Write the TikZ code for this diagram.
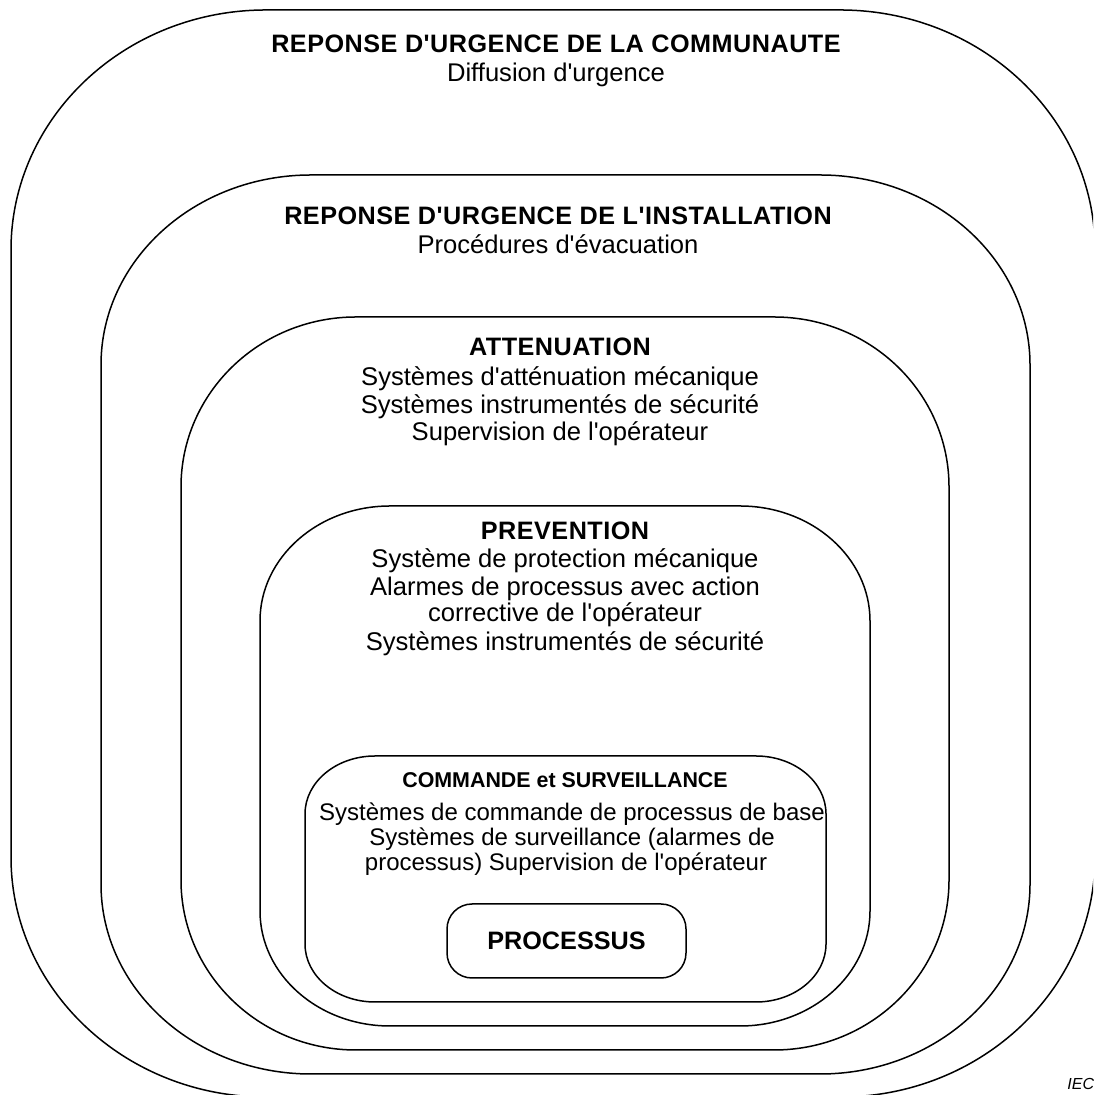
\documentclass[tikz,border=0pt]{standalone}
\usepackage{fontspec}
\setmainfont{Liberation Sans}[Ligatures=TeXOff]
\newcommand{\ovalframe}[6]{%
  \draw[frame] ({#1+#5},{1095-#2}) -- ({#3-#5},{1095-#2})
    arc[start angle=90,end angle=0,x radius={#5*0.5pt},y radius={#6*0.5pt}]
    -- ({#3},{1095-#4+#6})
    arc[start angle=0,end angle=-90,x radius={#5*0.5pt},y radius={#6*0.5pt}]
    -- ({#1+#5},{1095-#4})
    arc[start angle=270,end angle=180,x radius={#5*0.5pt},y radius={#6*0.5pt}]
    -- ({#1},{1095-#2-#6})
    arc[start angle=180,end angle=90,x radius={#5*0.5pt},y radius={#6*0.5pt}]
    -- cycle;}
\tikzset{
  frame/.style={draw=black,line width=0.75pt},
  ttl/.style={anchor=base,inner sep=0pt,font=\fontsize{12.6}{14}\selectfont\bfseries\addfontfeature{LetterSpace=2}},
  body/.style={anchor=base,inner sep=0pt,font=\fontsize{12.8}{14}\selectfont},
  cbody/.style={anchor=base,inner sep=0pt,font=\fontsize{12}{14}\selectfont},
  cttl/.style={anchor=base,inner sep=0pt,font=\fontsize{10.7}{13}\selectfont\bfseries},
}
\begin{document}
\begin{tikzpicture}[x=0.5pt,y=0.5pt]
\useasboundingbox (0,0) rectangle (1093,1095);
\clip (0,0) rectangle (1093,1095);
% frames (L, T, R, B, rx, ry) in pixels, y downward
\ovalframe{11}{10}{1095}{1097}{255}{240}
\ovalframe{101}{175}{1030}{1074}{210}{190}
\ovalframe{181}{317}{949}{1050}{175}{170}
\ovalframe{260}{506}{870}{1026}{130}{115}
\ovalframe{305}{756}{826}{1002}{70}{58}
\node[draw,line width=0.75pt,rounded corners=12.5pt,minimum width=119.5pt,minimum height=37pt,inner sep=0pt,
  font=\fontsize{12.6}{14}\selectfont\bfseries] (proc) at (566.5,{1095-941}) {PROCESSUS};
% texts
\node[ttl] (c1) at (556,{1095-53}) {REPONSE D'URGENCE DE LA COMMUNAUTE};
\node[body] (c2) at (556,{1095-82}) {Diffusion d'urgence};
\node[ttl] (i1) at (558,{1095-225}) {REPONSE D'URGENCE DE L'INSTALLATION};
\node[body] (i2) at (558,{1095-254}) {Procédures d'évacuation};
\node[ttl] (a1) at (560,{1095-356}) {ATTENUATION};
\node[body] (a2) at (560,{1095-386}) {Systèmes d'atténuation mécanique};
\node[body] (a3) at (560,{1095-414}) {Systèmes instrumentés de sécurité};
\node[body] (a4) at (560,{1095-441}) {Supervision de l'opérateur};
\node[ttl] (p1) at (565,{1095-540}) {PREVENTION};
\node[body] (p2) at (565,{1095-568}) {Système de protection mécanique};
\node[body] (p3) at (565,{1095-596}) {Alarmes de processus avec action};
\node[body] (p4) at (565,{1095-622}) {corrective de l'opérateur};
\node[body] (p5) at (565,{1095-651}) {Systèmes instrumentés de sécurité};
\node[cttl] (k1) at (565,{1095-788}) {COMMANDE et SURVEILLANCE};
\node[cbody] (k2) at (572,{1095-821}) {Systèmes de commande de processus de base};
\node[cbody] (k3) at (572,{1095-846}) {Systèmes de surveillance (alarmes de};
\node[cbody] (k4) at (566,{1095-871}) {processus) Supervision de l'opérateur};
\node[anchor=base west,inner sep=0pt,font=\fontsize{8}{10}\selectfont\itshape] (iec) at (1067,{1095-1090}) {IEC};
\end{tikzpicture}
\end{document}
